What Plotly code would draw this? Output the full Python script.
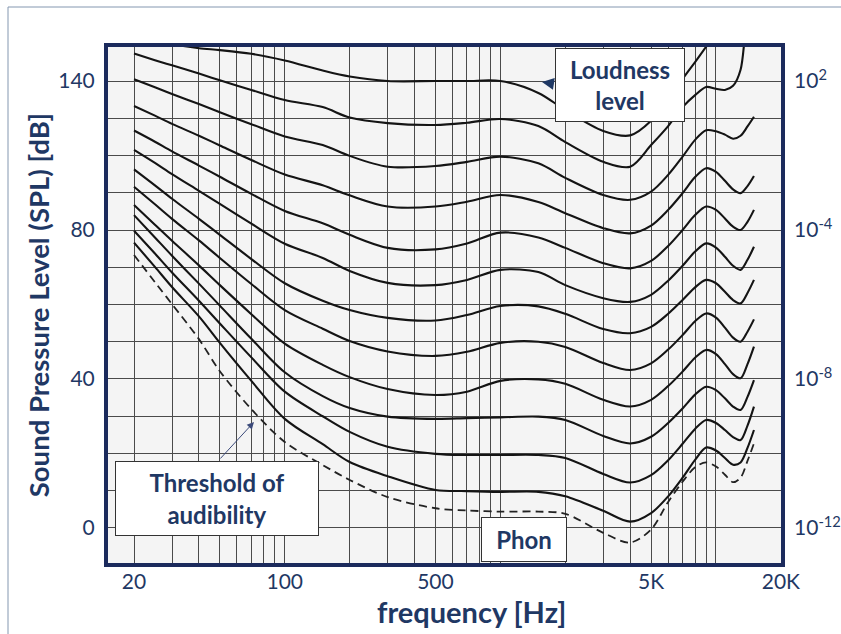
import plotly.graph_objects as go

# ---------------- data ----------------
FREQ = [20, 25, 30, 40, 50, 70, 100, 150, 200, 300, 500, 700, 1000, 1500, 2000,
        3000, 4000, 5000, 6000, 7000, 8000, 9000, 10000, 11000, 12000, 13000, 14000, 15000]

THRESHOLD = [73.3, 66.0, 60.1, 50.7, 42.1, 31.9, 23.1, 16.9, 12.9, 8.3, 5.3, 4.7, 4.4, 4.4, 3.8,
             -1.3, -3.9, -0.4, 7.0, 12.4, 16.3, 17.6, 16.5, 14.3, 12.3, 13.5, 18.0, 22.7]
PHON_10 = [76.6, 70.1, 64.7, 56.8, 49.7, 39.5, 29.3, 22.5, 17.7, 13.9, 10.2, 9.9, 9.7, 9.7, 8.5,
           4.6, 1.7, 4.0, 8.5, 13.5, 18.3, 21.6, 20.8, 18.8, 17.0, 17.6, 21.5, 26.3]
PHON_20 = [79.8, 73.7, 68.6, 61.0, 54.9, 45.8, 36.6, 30.0, 25.8, 21.8, 19.9, 19.6, 19.6, 19.6, 18.8,
           14.5, 12.2, 14.2, 18.2, 22.6, 26.6, 29.0, 28.2, 26.3, 24.4, 23.6, 27.5, 32.6]
PHON_30 = [84.0, 78.0, 73.1, 65.6, 59.7, 50.8, 41.8, 35.4, 32.2, 29.9, 29.3, 29.5, 29.7, 29.9, 29.0,
           24.7, 22.7, 24.5, 28.2, 32.1, 35.8, 37.9, 37.0, 34.8, 32.6, 31.7, 35.2, 39.7]
PHON_40 = [86.7, 81.4, 77.1, 70.5, 65.2, 57.4, 49.5, 43.8, 40.5, 37.3, 35.7, 36.6, 39.5, 39.9, 38.7,
           34.4, 32.6, 34.4, 38.1, 42.0, 45.7, 47.8, 46.7, 44.0, 41.3, 40.2, 44.0, 48.7]
PHON_50 = [91.6, 86.9, 83.0, 77.2, 72.5, 65.5, 58.5, 53.5, 50.2, 47.4, 46.2, 47.3, 49.7, 50.0, 48.6,
           44.3, 42.4, 44.2, 47.9, 51.8, 55.5, 57.6, 56.5, 53.8, 51.1, 50.0, 52.7, 56.0]
PHON_60 = [96.3, 92.0, 88.4, 83.0, 78.7, 72.2, 65.7, 61.0, 58.5, 56.4, 55.7, 57.2, 59.6, 59.5, 57.5,
           53.4, 52.3, 54.0, 57.5, 61.2, 64.6, 66.6, 65.7, 63.4, 61.2, 60.3, 63.1, 66.6]
PHON_70 = [101.5, 98.0, 95.0, 90.5, 87.0, 81.7, 76.3, 72.5, 69.0, 65.8, 65.2, 66.6, 69.3, 68.7, 65.2,
           61.7, 60.7, 62.6, 66.4, 70.4, 74.2, 76.4, 75.3, 72.8, 70.4, 69.3, 72.0, 75.5]
PHON_80 = [106.7, 103.7, 101.1, 97.3, 94.3, 89.7, 85.1, 81.8, 78.7, 75.2, 74.8, 76.4, 79.3, 78.0, 75.2,
           71.1, 69.7, 71.7, 75.7, 80.0, 84.0, 86.3, 85.4, 83.1, 80.9, 80.0, 82.2, 85.4]
PHON_90 = [113.3, 110.7, 108.5, 105.3, 102.7, 98.8, 94.9, 92.0, 89.3, 86.3, 86.3, 87.6, 89.4, 87.5, 84.5,
           80.5, 79.1, 81.2, 85.4, 89.9, 94.2, 96.6, 95.6, 93.2, 90.9, 89.9, 91.8, 94.5]
PHON_100 = [120.5, 118.3, 116.5, 113.8, 111.6, 108.4, 105.1, 102.8, 99.9, 97.0, 97.2, 98.3, 99.7, 97.9, 94.0,
            89.4, 88.1, 90.3, 94.8, 99.7, 104.2, 106.8, 106.5, 105.6, 104.5, 105.3, 107.8, 110.4]
PHON_110 = [127.4, 125.6, 124.2, 122.0, 120.2, 117.6, 114.9, 113.0, 110.2, 108.7, 108.2, 108.8, 109.8, 107.9, 103.6,
            98.3, 97.0, 102.8, 107.9, 113.0, 116.2, 118.4, 117.9, 117.6, 118.7, 123.0, 140.0, 150.0]
PHON_120 = [135.0, 131.5, 130.0, 128.8, 128.3, 127.3, 125.5, 122.8, 121.2, 120.0, 120.0, 120.0, 120.0, 116.8, 112.2,
            106.6, 105.4, 109.3, 115.4, 120.6, 125.1, 129.2, 133.0, 137.0, None, None, None, None]

CONTOURS = [PHON_10, PHON_20, PHON_30, PHON_40, PHON_50, PHON_60,
            PHON_70, PHON_80, PHON_90, PHON_100, PHON_110, PHON_120]

X_TICKS = [20, 100, 500, 5000, 20000]
X_TICK_TEXT = ["20", "100", "500", "5K", "20K"]
X_MINOR = [30, 40, 50, 60, 70, 80, 90, 200, 300, 400, 600, 700, 800, 900, 1000,
           2000, 3000, 4000, 6000, 7000, 8000, 9000, 10000]
Y_TICKS = [0, 40, 80, 120]
Y_TICK_TEXT = ["0", "40", "80", "140"]
Y_MINOR = [10, 20, 30, 50, 60, 70, 90, 100, 110]
Y2_TICK_TEXT = ["10<sup>-12</sup>", "10<sup>-8</sup>", "10<sup>-4</sup>", "10<sup>2</sup>"]

# ---------------- style ----------------
NAVY = "#1f3864"
FRAME = "#1b2a5c"
GRID = "#4a4a4a"
FONT = "Lato"
W, H = 841, 634
ML, MR, MT, MB = 108, 60, 47, 71
PW, PH = W - ML - MR, H - MT - MB
XR = [1.1803, 4.3015]
YR = [-9.4, 129.13]


def px(xp):
    return (xp - ML) / PW


def py(yp):
    return (H - MB - yp) / PH


fig = go.Figure()

for vals in CONTOURS:
    fig.add_trace(go.Scatter(x=FREQ, y=vals, mode="lines",
                             line=dict(color="#141414", width=2.1, shape="spline", smoothing=0.9),
                             hoverinfo="skip", showlegend=False, connectgaps=False))

fig.add_trace(go.Scatter(x=FREQ, y=THRESHOLD, mode="lines",
                         line=dict(color="#222222", width=1.8, dash="8px,5px", shape="spline", smoothing=0.9),
                         hoverinfo="skip", showlegend=False))

# carrier for the right-hand intensity axis
fig.add_trace(go.Scatter(x=[FREQ[0]], y=[THRESHOLD[0]], yaxis="y2", mode="markers",
                         marker=dict(opacity=0), hoverinfo="skip", showlegend=False))

fig.update_layout(
    width=W, height=H,
    margin=dict(l=ML, r=MR, t=MT, b=MB, autoexpand=False),
    paper_bgcolor="white",
    plot_bgcolor="#f4f4f4",
    font=dict(family=FONT, color=NAVY),
    xaxis=dict(type="log", range=XR, tickvals=X_TICKS, ticktext=X_TICK_TEXT,
               tickfont=dict(size=21, color=NAVY, family=FONT), ticks="",
               showgrid=True, gridcolor=GRID, gridwidth=1,
               minor=dict(tickvals=X_MINOR, showgrid=True, gridcolor=GRID, gridwidth=1, ticks=""),
               showline=True, linecolor=FRAME, linewidth=4, mirror=True, zeroline=False,
               ticklabelstandoff=-3, automargin=False),
    yaxis=dict(range=YR, tickvals=Y_TICKS, ticktext=Y_TICK_TEXT,
               tickfont=dict(size=21, color=NAVY, family=FONT), ticks="",
               showgrid=True, gridcolor=GRID, gridwidth=1,
               minor=dict(tickvals=Y_MINOR, showgrid=True, gridcolor=GRID, gridwidth=1, ticks=""),
               showline=True, linecolor=FRAME, linewidth=4, mirror=True, zeroline=False,
               ticklabelstandoff=5, automargin=False,
               title=dict(text="<b>Sound Pressure Level (SPL) [dB]</b>",
                          font=dict(size=27.5, color=NAVY, family=FONT), standoff=2)),
    yaxis2=dict(range=YR, overlaying="y", side="right", tickvals=Y_TICKS, ticktext=Y2_TICK_TEXT,
                tickfont=dict(size=21, color=NAVY, family=FONT), ticks="", showgrid=False,
                showline=False, zeroline=False, ticklabelstandoff=12, automargin=False),
)

fig.add_annotation(xref="paper", yref="paper", x=px(471), y=py(611),
                   text="<b>frequency [Hz]</b>", showarrow=False,
                   font=dict(size=29, color=NAVY, family=FONT), xanchor="center", yanchor="middle")

box_font = dict(size=24, color=NAVY, family=FONT)
fig.add_annotation(xref="paper", yref="paper", x=px(620), y=py(85),
                   text="<b>Loudness<br>level</b>", showarrow=False, font=box_font,
                   bgcolor="white", bordercolor="#333333", borderwidth=1, borderpad=2,
                   width=124, height=68, xanchor="center", yanchor="middle")
fig.add_annotation(xref="paper", yref="paper", x=px(217), y=py(498),
                   text="<b>Threshold of<br>audibility</b>", showarrow=False, font=box_font,
                   bgcolor="white", bordercolor="#333333", borderwidth=1, borderpad=2,
                   width=198, height=69, xanchor="center", yanchor="middle")
fig.add_annotation(xref="paper", yref="paper", x=px(524), y=py(539.5),
                   text="<b>Phon</b>", showarrow=False, font=box_font,
                   bgcolor="white", bordercolor="#333333", borderwidth=1, borderpad=2,
                   width=80, height=39, xanchor="center", yanchor="middle")

# arrows
fig.add_annotation(xref="paper", yref="paper", x=px(542), y=py(82), ax=13, ay=2,
                   text="", showarrow=True, arrowhead=2, arrowsize=1.6, arrowwidth=1.5,
                   arrowcolor=NAVY)
fig.add_annotation(xref="paper", yref="paper", x=px(254), y=py(422), ax=-35, ay=38,
                   text="", showarrow=True, arrowhead=2, arrowsize=1.4, arrowwidth=1,
                   arrowcolor="#3b4a7a")

# outer thin border of the figure
fig.add_shape(type="rect", xref="paper", yref="paper",
              x0=px(8), x1=px(900), y0=py(700), y1=py(7),
              line=dict(color="#8497b0", width=1), fillcolor="rgba(0,0,0,0)", layer="below")

fig.write_html("out.html")
